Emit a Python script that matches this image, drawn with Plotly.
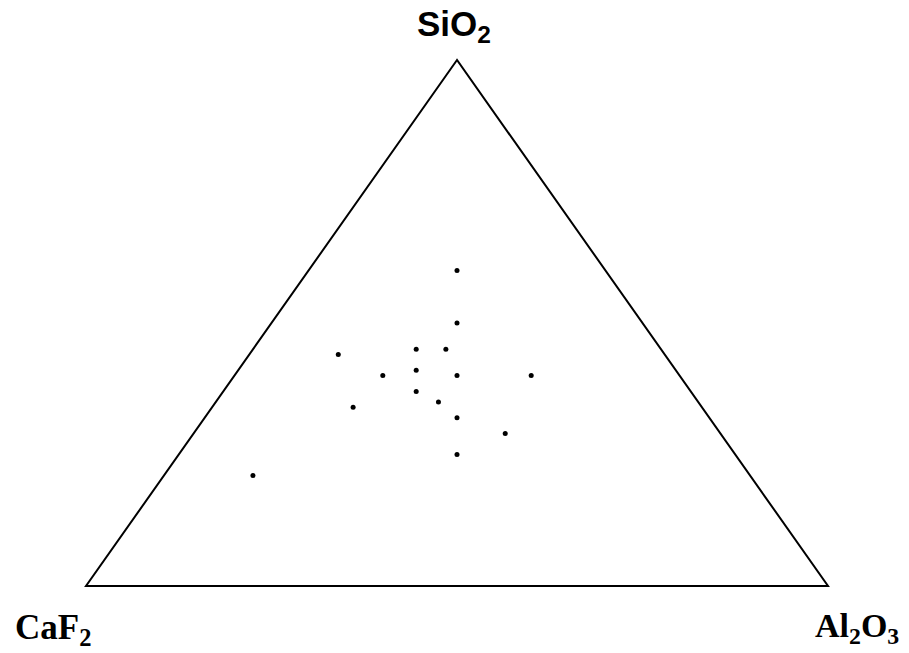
import plotly.graph_objects as go

# Sample compositions (mole fractions) in the SiO2 - Al2O3 - CaF2 system
sio2 = [0.60, 0.50, 0.45, 0.45, 0.44, 0.41, 0.40, 0.40, 0.40, 0.37, 0.35, 0.34, 0.32, 0.29, 0.25, 0.21]
al2o3 = [0.20, 0.25, 0.26, 0.22, 0.12, 0.24, 0.20, 0.30, 0.40, 0.26, 0.30, 0.19, 0.34, 0.42, 0.375, 0.12]
caf2 = [0.20, 0.25, 0.29, 0.33, 0.44, 0.35, 0.40, 0.30, 0.20, 0.37, 0.35, 0.47, 0.34, 0.29, 0.375, 0.67]

# Corners of the diagram: pure SiO2 (top), pure CaF2 (left), pure Al2O3 (right)
corners_sio2 = [1.0, 0.0, 0.0]
corners_al2o3 = [0.0, 0.0, 1.0]
corners_caf2 = [0.0, 1.0, 0.0]


def to_xy(s, a, c):
    """Project a ternary composition onto the plane (CaF2 at 0,0; Al2O3 at 1,0; SiO2 at 0.5,1)."""
    total = s + a + c
    s, a = s / total, a / total
    return a + s / 2.0, s


pts = [to_xy(s, a, c) for s, a, c in zip(sio2, al2o3, caf2)]
px = [p[0] for p in pts]
py = [p[1] for p in pts]

tri = [to_xy(s, a, c) for s, a, c in zip(corners_sio2, corners_al2o3, corners_caf2)]
path = "M {} {} L {} {} L {} {} Z".format(tri[0][0], tri[0][1], tri[1][0], tri[1][1], tri[2][0], tri[2][1])

W, H = 909, 653
fig = go.Figure()
fig.add_trace(go.Scatter(
    x=px, y=py, mode="markers",
    marker=dict(color="black", size=5, symbol="circle", line=dict(width=0)),
    hoverinfo="skip", showlegend=False,
))

fig.add_shape(type="path", path=path, xref="x", yref="y",
              line=dict(color="black", width=2), fillcolor="rgba(0,0,0,0)")


def paper(xp, yp):
    return xp / W, 1 - yp / H


annots = [
    ("SiO<sub>2</sub>", 454, 26, "Liberation Sans", 35),
    ("CaF<sub>2</sub>", 53, 629, "Liberation Serif", 35),
    ("Al<sub>2</sub>O<sub>3</sub>", 857, 628, "Liberation Serif", 34),
]
for text, xp, yp, fam, size in annots:
    ax, ay = paper(xp, yp)
    fig.add_annotation(text=text, x=ax, y=ay, xref="paper", yref="paper",
                       xanchor="center", yanchor="middle", showarrow=False,
                       font=dict(family=fam, size=size, color="black", weight="bold"))

# Axis ranges chosen so the triangle sits at the same place in the window
sx = 742.0
sy = 526.0
fig.update_xaxes(range=[-86 / sx, (W - 86) / sx], visible=False, fixedrange=True)
fig.update_yaxes(range=[-(H - 586) / sy, 1 + 60 / sy], visible=False, fixedrange=True)
fig.update_layout(
    width=W, height=H,
    margin=dict(l=0, r=0, t=0, b=0),
    paper_bgcolor="white", plot_bgcolor="white",
)

fig.write_html("out.html")
